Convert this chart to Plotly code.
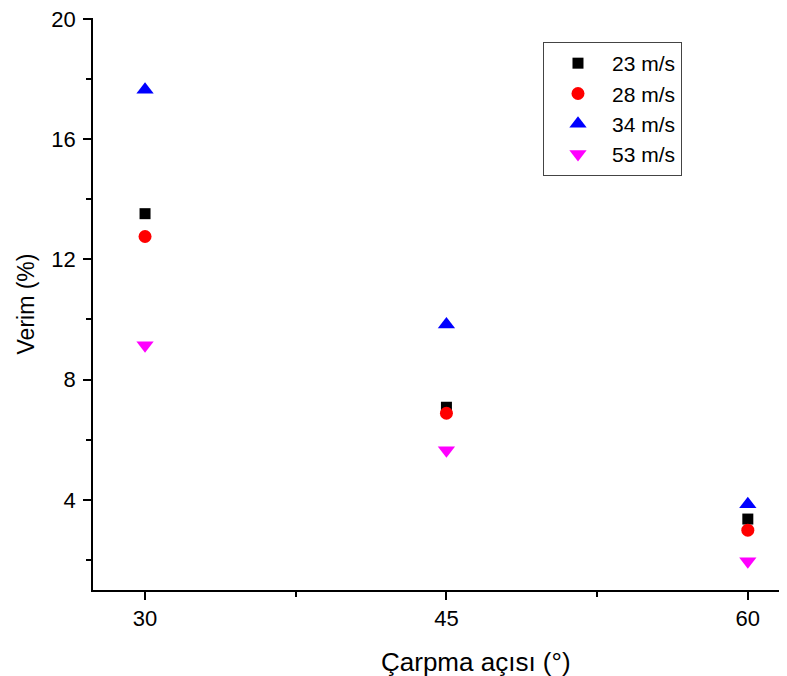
import plotly.graph_objects as go

angles = [30, 45, 60]
v23 = [13.52, 7.08, 3.36]
v28 = [12.76, 6.88, 2.99]
v34 = [17.64, 9.83, 3.85]
v53 = [9.14, 5.65, 1.96]

series = [
    ("23 m/s", v23, "square", "black", 11),
    ("28 m/s", v28, "circle", "red", 13),
    ("34 m/s", v34, "triangle-up", "blue", 15),
    ("53 m/s", v53, "triangle-down", "magenta", 15),
]

fig = go.Figure()
for name, vals, sym, col, sz in series:
    fig.add_trace(go.Scatter(
        x=angles, y=vals, mode="markers", name=name,
        marker=dict(symbol=sym, color=col, size=sz, line=dict(width=0)),
    ))

font = "Liberation Sans, Arial, sans-serif"
fig.update_layout(
    width=787, height=676,
    margin=dict(l=85, r=8, t=10, b=94, autoexpand=False),
    plot_bgcolor="white", paper_bgcolor="white",
    font=dict(family=font, color="black", size=22),
    showlegend=True,
    legend=dict(
        x=0.6484, y=0.958, xanchor="left", yanchor="top",
        bordercolor="#444", borderwidth=1, bgcolor="white",
        font=dict(size=21, family=font), itemwidth=58, tracegroupgap=0,
    ),
    xaxis=dict(
        range=[27.41, 61.95], tick0=30, dtick=15, tickmode="linear",
        showgrid=False, zeroline=False, showline=True, linecolor="black", linewidth=1.5,
        ticks="outside", ticklen=8, tickwidth=1.5, tickcolor="black",
        minor=dict(dtick=7.5, tick0=30, ticks="outside", ticklen=5, tickwidth=1.5, tickcolor="black", showgrid=False),
        tickfont=dict(size=22), ticklabeloverflow="allow", automargin=False,
    ),
    yaxis=dict(
        range=[1.0, 20.03], tick0=4, dtick=4, tickmode="linear",
        showgrid=False, zeroline=False, showline=True, linecolor="black", linewidth=1.5,
        ticks="outside", ticklen=8, tickwidth=1.5, tickcolor="black",
        minor=dict(dtick=2, tick0=0, ticks="outside", ticklen=5, tickwidth=1.5, tickcolor="black", showgrid=False),
        title=dict(text="Verim (%)", font=dict(size=23), standoff=10),
        tickfont=dict(size=22), ticklabeloverflow="allow", automargin=False,
        ticklabelstandoff=3,
    ),
    annotations=[dict(
        text="Çarpma açısı (°)", xref="paper", yref="paper",
        x=0.552, y=-0.126, xanchor="center", yanchor="middle",
        showarrow=False, font=dict(size=26, family=font, color="black"),
    )],
)

fig.write_html("out.html")
